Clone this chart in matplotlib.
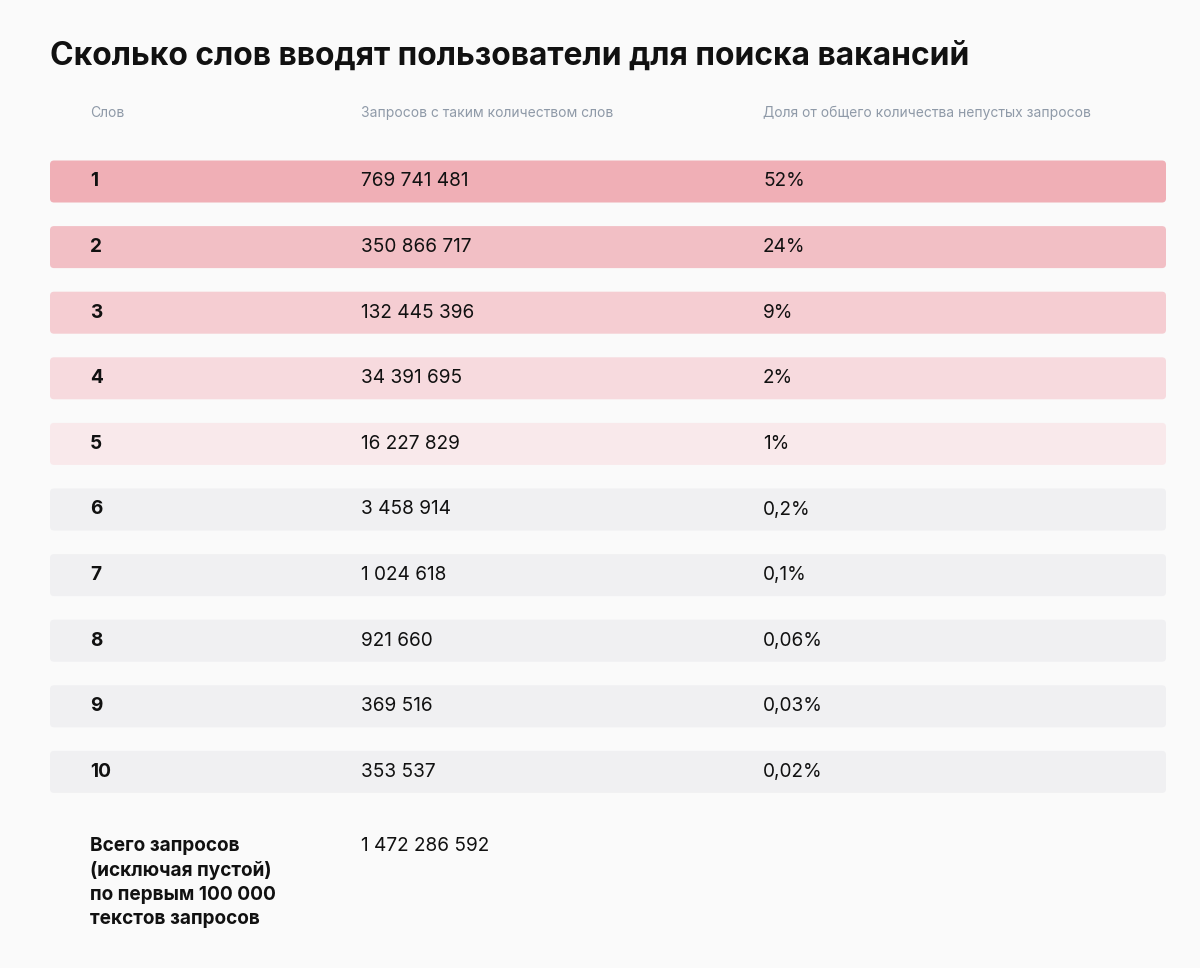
import matplotlib
matplotlib.use("Agg")
import matplotlib.pyplot as plt
from matplotlib.patches import FancyBboxPatch

# data
words = ["1", "2", "3", "4", "5", "6", "7", "8", "9", "10"]
counts = ["769 741 481", "350 866 717", "132 445 396", "34 391 695", "16 227 829",
          "3 458 914", "1 024 618", "921 660", "369 516", "353 537"]
shares = ["52%", "24%", "9%", "2%", "1%", "0,2%", "0,1%", "0,06%", "0,03%", "0,02%"]
headers = ["Слов", "Запросов с таким количеством слов",
           "Доля от общего количества непустых запросов"]
total_label = "Всего запросов\n(исключая пустой)\nпо первым 100 000\nтекстов запросов"
total_value = "1 472 286 592"
title = "Сколько слов вводят пользователи для поиска вакансий"

row_colors = ["#F0AFB6", "#F2BFC5", "#F5CDD2", "#F7DADE", "#F9E9EB",
              "#F0F0F2", "#F0F0F2", "#F0F0F2", "#F0F0F2", "#F0F0F2"]
BG = "#FAFAFA"
GRAY = "#8F9AA8"
FONT = ["Inter", "DejaVu Sans"]
plt.rcParams["font.family"] = FONT

fig = plt.figure(figsize=(12, 9.68), dpi=100, facecolor=BG)
ax = fig.add_axes([0, 0, 1, 1])
ax.set_facecolor(BG)
ax.set_xlim(0, 1200)
ax.set_ylim(968, 0)
ax.axis("off")

col_x = [90, 361, 763]
row_y0 = 181.5
row_step = 65.6
row_h = 42
BODY = 13.7

ax.text(50, 56, title, fontsize=22.9, fontweight="bold", color="#111111",
        ha="left", va="center")

for x, h in zip(col_x, headers):
    ax.text(x, 113, h, fontsize=10, color=GRAY, ha="left", va="center")

for i, (w, c, s) in enumerate(zip(words, counts, shares)):
    yc = row_y0 + i * row_step
    ax.add_patch(FancyBboxPatch((50, yc - row_h / 2), 1116, row_h,
                                boxstyle="round,pad=0,rounding_size=4",
                                facecolor=row_colors[i], edgecolor="none"))
    ax.text(col_x[0], yc, w, fontsize=BODY, fontweight="bold", color="#111111",
            ha="left", va="center")
    ax.text(col_x[1], yc, c, fontsize=BODY, color="#111111", ha="left", va="center")
    ax.text(col_x[2], yc, s, fontsize=BODY, color="#111111", ha="left", va="center")

ax.text(col_x[0], 837, total_label, fontsize=BODY, fontweight="bold", color="#111111",
        ha="left", va="top", linespacing=1.42)
ax.text(col_x[1], 837, total_value, fontsize=BODY, color="#111111",
        ha="left", va="top")

fig.savefig("out.png", dpi=100, facecolor=BG)
